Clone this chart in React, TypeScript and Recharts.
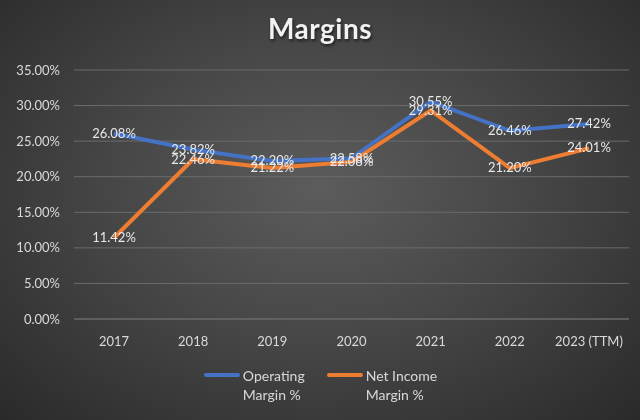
import React from 'react';
import { LineChart, Line, XAxis, YAxis, CartesianGrid, Legend, LabelList } from 'recharts';

const years = ['2017', '2018', '2019', '2020', '2021', '2022', '2023 (TTM)'];
const operatingMargin = [26.08, 23.82, 22.2, 22.58, 30.55, 26.46, 27.42];
const netIncomeMargin = [11.42, 22.46, 21.22, 22.08, 29.31, 21.2, 24.01];
const yTicks = [0, 5, 10, 15, 20, 25, 30, 35];

const data = years.map((year, i) => ({
  year,
  operating: operatingMargin[i],
  net: netIncomeMargin[i],
}));

const FONT = 'Lato, "Open Sans", sans-serif';

const seriesInfo = [
  { key: 'operating', color: '#4472C4', lines: ['Operating', 'Margin %'] },
  { key: 'net', color: '#ED7D31', lines: ['Net Income', 'Margin %'] },
];

const renderLabel = (props: any) => {
  const { x, y, value } = props;
  return (
    <text
      x={x}
      y={y + 1}
      textAnchor="middle"
      dominantBaseline="middle"
      fill="#e8e8e8"
      fontSize={13}
      fontFamily={FONT}
    >
      {value.toFixed(2)}%
    </text>
  );
};

const renderLegend = () => (
  <div style={{ display: 'flex', justifyContent: 'center', gap: 22, fontFamily: FONT, paddingTop: 17, paddingLeft: 12 }}>
    {seriesInfo.map(s => (
      <div key={s.key} style={{ display: 'flex', alignItems: 'flex-start' }}>
        <div style={{ width: 36, height: 4, background: s.color, borderRadius: 2, marginTop: 7, marginRight: 3 }} />
        <div style={{ color: '#d9d9d9', fontSize: 14, lineHeight: '19px' }}>
          {s.lines.map(l => (
            <div key={l}>{l}</div>
          ))}
        </div>
      </div>
    ))}
  </div>
);

const App: React.FC = () => {
  return (
    <div
      style={{
        position: 'fixed',
        top: 0,
        left: 0,
        width: 640,
        height: 420,
        background: 'radial-gradient(ellipse at 50% 45%, #5c5c5c 0%, #474747 45%, #2a2a2a 100%)',
      }}
    >
      <div
        style={{
          position: 'absolute',
          top: 11,
          width: '100%',
          textAlign: 'center',
          color: '#f2f2f2',
          fontFamily: FONT,
          fontWeight: 700,
          fontSize: 28,
          letterSpacing: 0.5,
          textShadow: '1px 2px 3px rgba(0,0,0,0.6)',
        }}
      >
        Margins
      </div>
      <LineChart width={640} height={420} data={data} margin={{ top: 70, right: 11, bottom: 20, left: 0 }}>
        <CartesianGrid vertical={false} stroke="#6b6b6b" strokeWidth={1} />
        <XAxis
          dataKey="year"
          axisLine={{ stroke: '#6b6b6b' }}
          tickLine={false}
          padding={{ left: 40, right: 40 }}
          tick={{ fill: '#d9d9d9', fontSize: 13, fontFamily: FONT }}
          tickMargin={12}
          height={30}
        />
        <YAxis
          domain={[0, 35]}
          ticks={yTicks}
          width={74}
          axisLine={false}
          tickLine={false}
          tickMargin={8}
          tickFormatter={(v: number) => `${v.toFixed(2)}%`}
          tick={{ fill: '#d9d9d9', fontSize: 13, fontFamily: FONT }}
        />
        <Legend verticalAlign="bottom" height={51} content={renderLegend} />
        <Line
          type="linear"
          dataKey="operating"
          stroke="#4472C4"
          strokeWidth={4}
          dot={false}
          isAnimationActive={false}
        >
          <LabelList dataKey="operating" content={renderLabel} />
        </Line>
        <Line
          type="linear"
          dataKey="net"
          stroke="#ED7D31"
          strokeWidth={4}
          dot={false}
          isAnimationActive={false}
        >
          <LabelList dataKey="net" content={renderLabel} />
        </Line>
      </LineChart>
    </div>
  );
};

export default App;
